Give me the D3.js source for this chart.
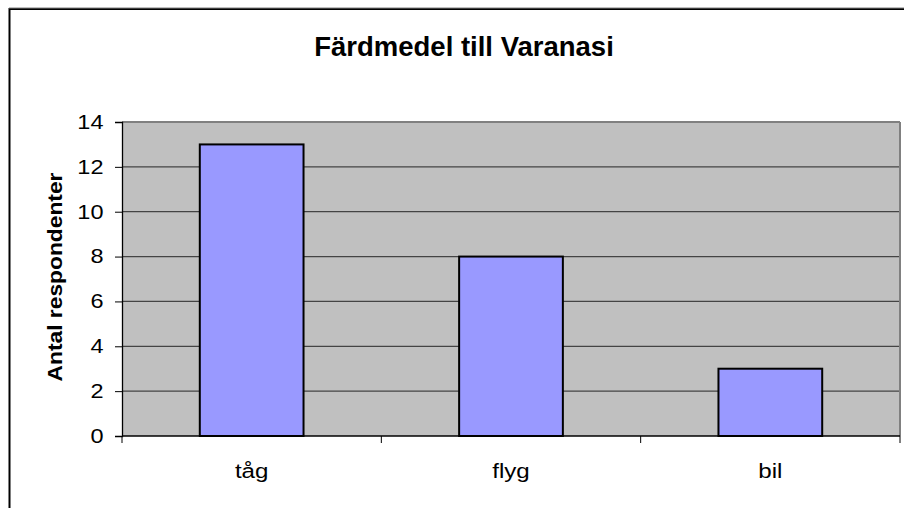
<!DOCTYPE html>
<html><head><meta charset="utf-8">
<script src="https://cdn.jsdelivr.net/npm/d3@7"></script>
<style>body{margin:0;background:#fff}svg{display:block}text{font-family:"Liberation Sans",Arial,sans-serif}</style>
</head><body>
<svg id="c" width="904" height="508"></svg>
<script>
const categories = ["tåg", "flyg", "bil"];
const values = [13, 8, 3];
const yTicks = [0, 2, 4, 6, 8, 10, 12, 14];
const title = "Färdmedel till Varanasi";
const yTitle = "Antal respondenter";

const svg = d3.select("#c");
const m = {left: 122, top: 122, right: 900, bottom: 436};
const FONT = '"Liberation Sans",Arial,sans-serif';
const SX = 1.12; // slight horizontal widening of label glyphs

// outer chart border
svg.append("rect").attr("x", 9.5).attr("y", 9).attr("width", 1000).attr("height", 1000)
  .attr("fill", "#fff").attr("stroke", "#000").attr("stroke-width", 2);
svg.append("line").attr("x1", 9).attr("x2", 904).attr("y1", 8).attr("y2", 8).attr("stroke", "#808080").attr("stroke-width", 1);

const x = d3.scaleBand().domain(categories).range([m.left, m.right]).paddingInner(0.6).paddingOuter(0.3);
const y = d3.scaleLinear().domain([0, 14]).range([m.bottom, m.top]);

// plot area
svg.append("rect").attr("x", m.left).attr("y", m.top).attr("width", m.right - m.left).attr("height", m.bottom - m.top)
  .attr("fill", "#C0C0C0");

// gridlines
svg.append("g").selectAll("line").data(yTicks.filter(d => d > 0)).join("line")
  .attr("x1", m.left).attr("x2", m.right)
  .attr("y1", d => y(d)).attr("y2", d => y(d))
  .attr("stroke", d => d === 14 ? "#808080" : "#444").attr("stroke-width", d => d === 14 ? 2 : 1.3);

// right border of plot
svg.append("line").attr("x1", m.right).attr("x2", m.right).attr("y1", m.top).attr("y2", m.bottom)
  .attr("stroke", "#808080").attr("stroke-width", 2);

// bars
svg.append("g").selectAll("rect").data(values).join("rect")
  .attr("x", (d, i) => x(categories[i]))
  .attr("y", d => y(d))
  .attr("width", x.bandwidth())
  .attr("height", d => y(0) - y(d))
  .attr("fill", "#9999FF").attr("stroke", "#000").attr("stroke-width", 2);

// y axis
const yAxis = svg.append("g").attr("transform", `translate(${m.left},0)`)
  .call(d3.axisLeft(y).tickValues(yTicks).tickSize(7).tickPadding(12).tickFormat(d3.format("d")));
yAxis.attr("font-family", FONT).attr("font-size", 21);
yAxis.select(".domain").attr("stroke", "#000").attr("stroke-width", 1.3);
yAxis.selectAll(".tick line").attr("stroke", "#000");
yAxis.selectAll(".tick text")
  .attr("fill", "#000")
  .attr("x", -18.5 / SX)
  .attr("dy", "0.3em")
  .attr("transform", `scale(${SX},1)`);

// x axis
const xEdges = d3.scaleLinear().domain([0, 3]).range([m.left, m.right]);
const xAxis = svg.append("g").attr("transform", `translate(0,${m.bottom})`);
xAxis.append("line").attr("x1", m.left).attr("x2", m.right).attr("stroke", "#000").attr("stroke-width", 1.5);
xAxis.selectAll(".t").data(d3.range(4)).join("line").attr("class", "t")
  .attr("x1", d => xEdges(d)).attr("x2", d => xEdges(d)).attr("y1", 0).attr("y2", 7)
  .attr("stroke", "#000");
xAxis.selectAll("text").data(categories).join("text")
  .attr("transform", d => `translate(${x(d) + x.bandwidth() / 2},42) scale(${SX + 0.03},1)`)
  .attr("text-anchor", "middle").attr("font-size", 21).attr("fill", "#000").text(d => d);

// title
svg.append("text").attr("x", 464).attr("y", 55.5).attr("text-anchor", "middle")
  .attr("font-size", 27.5).attr("font-weight", "bold").text(title);

// y title
svg.append("text").attr("transform", "translate(62,277) rotate(-90) scale(1.14,1)").attr("text-anchor", "middle")
  .attr("font-size", 20).attr("font-weight", "bold").text(yTitle);
</script>
</body></html>
